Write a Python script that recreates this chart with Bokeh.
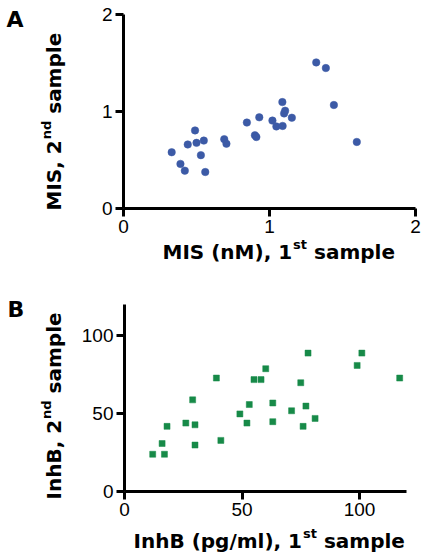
import math
from bokeh.plotting import figure
from bokeh.models import Range1d, Label, FixedTicker
from bokeh.layouts import column
from bokeh.embed import file_html
from bokeh.resources import INLINE

# ---------------- data ----------------
mis_first = [0.33, 0.39, 0.42, 0.44, 0.49, 0.50, 0.53, 0.55, 0.56, 0.69, 0.705,
             0.845, 0.90, 0.91, 0.93, 1.02, 1.047, 1.088, 1.09, 1.10, 1.107,
             1.153, 1.32, 1.386, 1.441, 1.598]
mis_second = [0.58, 0.46, 0.39, 0.66, 0.805, 0.677, 0.55, 0.70, 0.376, 0.715, 0.668,
              0.886, 0.755, 0.737, 0.94, 0.906, 0.846, 1.097, 0.851, 0.98, 1.008,
              0.936, 1.506, 1.448, 1.067, 0.686]

inhb_first = [12.0, 16.0, 17.0, 18.1, 26.1, 29.0, 30.0, 30.0, 39.1, 41.0, 49.1,
              52.1, 53.1, 55.1, 58.1, 60.1, 63.1, 63.1, 71.1, 75.0, 76.0, 77.2,
              78.1, 81.1, 99.0, 101.0, 117.1]
inhb_second = [23.9, 30.8, 23.9, 41.8, 43.9, 58.8, 42.8, 29.8, 72.8, 32.8, 49.8,
               43.9, 55.8, 71.8, 71.8, 78.8, 56.8, 44.8, 51.8, 69.8, 41.8, 54.8,
               88.8, 46.9, 80.9, 88.8, 72.8]

mis_ticks = [0, 1, 2]
mis_limits = (0, 2)
inhb_ticks = [0, 50, 100]
inhb_limits = (0, 120)

FONT = "DejaVu Sans"
TICK_FONT = "Liberation Sans"
BLUE = "#3c5aa6"
GREEN = "#178a48"

W = 427
H1 = 280
H2 = 280

# page geometry (page pixels) of where axis values land
G1 = dict(x0=123, x1=415, y0=208, y1=14, oy=0, lim=mis_limits)
G2 = dict(x0=124, x1=406, y0=491, y1=304, oy=H1, lim=inhb_limits)

# measured rendering offset of label text (pixels, in the text's own "down" direction)
TEXT_SHIFT = 7


def ranges(G, h):
    lo, hi = G["lim"]
    sx = (G["x1"] - G["x0"]) / (hi - lo)
    sy = (G["y0"] - G["y1"]) / (hi - lo)
    xr = (lo - G["x0"] / sx, lo + (W - G["x0"]) / sx)
    top = G["oy"]
    bot = G["oy"] + h
    yr = (lo - (bot - G["y0"]) / sy, lo + (G["y0"] - top) / sy)
    return xr, yr


def make_fig(G, h, ticks):
    xr, yr = ranges(G, h)
    p = figure(width=W, height=h, output_backend="svg", toolbar_location=None,
               x_range=Range1d(*xr), y_range=Range1d(*yr),
               min_border=0, min_border_left=0, min_border_right=0,
               min_border_top=0, min_border_bottom=0)
    p.outline_line_color = None
    p.grid.visible = False
    p.background_fill_color = "white"
    p.border_fill_color = "white"
    for ax in (p.xaxis[0], p.yaxis[0]):
        ax.fixed_location = 0
        ax.bounds = G["lim"]
        ax.ticker = FixedTicker(ticks=ticks)
        ax.axis_line_width = 3
        ax.axis_line_color = "black"
        ax.major_tick_line_width = 3
        ax.major_tick_line_color = "black"
        ax.major_tick_out = 8
        ax.major_tick_in = 0
        ax.minor_tick_line_color = None
        ax.major_label_text_font = TICK_FONT
        ax.major_label_text_font_size = "19px"
        ax.major_label_text_color = "black"
        ax.axis_label = None
    p.xaxis.major_label_standoff = 3
    p.yaxis.major_label_standoff = 3
    return p, xr, yr


def to_data(G, h, px, py):
    xr, yr = ranges(G, h)
    x = xr[0] + px / W * (xr[1] - xr[0])
    y = yr[1] - (py - G["oy"]) / h * (yr[1] - yr[0])
    return x, y


def add_text(p, G, h, px, py, text, size, angle=0.0, bold=True):
    if angle == 0.0:
        py -= TEXT_SHIFT
    else:
        px -= TEXT_SHIFT
    x, y = to_data(G, h, px, py)
    p.add_layout(Label(x=x, y=y, text=text, text_font=FONT,
                       text_font_style="bold" if bold else "normal",
                       text_font_size=f"{size}px", text_color="black",
                       text_align="left", text_baseline="alphabetic",
                       angle=angle))


# DejaVu Sans Bold advance widths (em)
ADV = {" ": .348, "M": .994, "I": .372, "S": .720, "(": .458, ")": .458, "n": .712,
       ",": .380, "1": .696, "2": .696, "s": .595, "t": .478, "a": .675, "m": 1.042,
       "p": .716, "l": .343, "e": .678, "d": .716, "h": .712, "B": .760, "g": .716,
       "/": .366, "N": .837}


def tw(s, size):
    return sum(ADV.get(c, 0.65) for c in s) * size


MAIN = 20
SUP = 13
RAISE = 7


def x_label(p, G, h, start, base, pre, sup, post):
    add_text(p, G, h, start, base, pre, MAIN)
    s2 = start + tw(pre, MAIN) + 1
    add_text(p, G, h, s2, base - RAISE, sup, SUP)
    s3 = s2 + tw(sup, SUP) + tw(" ", MAIN)
    add_text(p, G, h, s3, base, post, MAIN)


def y_label(p, G, h, start, base, pre, sup, post):
    a = math.pi / 2
    add_text(p, G, h, base, start, pre, MAIN, a)
    s2 = start - tw(pre, MAIN) - 1
    add_text(p, G, h, base - RAISE, s2, sup, SUP, a)
    s3 = s2 - tw(sup, SUP) - tw(" ", MAIN)
    add_text(p, G, h, base, s3, post, MAIN, a)


# ---------------- panel A ----------------
p1, xr1, yr1 = make_fig(G1, H1, mis_ticks)
p1.scatter(mis_first, mis_second, marker="circle", size=7.5,
           fill_color=BLUE, line_color=BLUE, line_width=0.5)
x_label(p1, G1, H1, 162, 258, "MIS (nM), 1", "st", "sample")
y_label(p1, G1, H1, 210, 60, "MIS, 2", "nd", "sample")
add_text(p1, G1, H1, 6, 26, "A", 22)

# ---------------- panel B ----------------
p2, xr2, yr2 = make_fig(G2, H2, inhb_ticks)
p2.scatter(inhb_first, inhb_second, marker="square", size=6,
           fill_color=GREEN, line_color=GREEN, line_width=0.5)
x_label(p2, G2, H2, 133, 547, "InhB (pg/ml), 1", "st", "sample")
y_label(p2, G2, H2, 499, 60, "InhB, 2", "nd", "sample")
add_text(p2, G2, H2, 7, 316, "B", 22)

layout = column(p1, p2, spacing=0)
open("out.html", "w").write(file_html(layout, INLINE))
